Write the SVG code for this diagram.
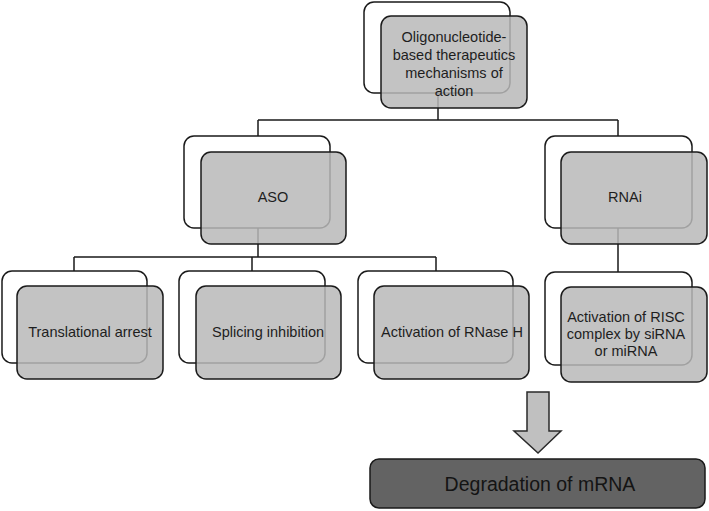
<svg xmlns="http://www.w3.org/2000/svg" width="709" height="511" viewBox="0 0 709 511">
<style>
.back{fill:#ffffff;stroke:#1a1a1a;stroke-width:1.5}
.front{fill:#b8b8b8;fill-opacity:0.85;stroke:#1a1a1a;stroke-width:1.5}
.conn{fill:none;stroke:#1a1a1a;stroke-width:1.5}
text{font-family:"Liberation Sans",Arial,sans-serif;font-size:14.5px;fill:#1e1e1e;text-anchor:middle}
</style>
<rect width="709" height="511" fill="#ffffff"/>
<g id="connectors">
<path class="conn" d="M438,93 V120 M258,120 H618 M258,120 V136 M618,120 V136 M258,228 V257 M74,257 H436 M74,257 V271 M252,257 V271 M436,257 V271 M618,228 V272"/>
</g>
<g id="node-top">
<rect class="back" x="364" y="2" width="146" height="91" rx="10"/>
<rect class="front" x="381" y="16" width="146" height="92" rx="10"/>
<text x="454" y="42">Oligonucleotide-</text>
<text x="454" y="60">based therapeutics</text>
<text x="454" y="78">mechanisms of</text>
<text x="454" y="96">action</text>
</g>
<g id="node-aso">
<rect class="back" x="184" y="136" width="146" height="92" rx="10"/>
<rect class="front" x="201" y="152" width="145" height="92" rx="10"/>
<text x="273" y="202">ASO</text>
</g>
<g id="node-rnai">
<rect class="back" x="545" y="136" width="147" height="92" rx="10"/>
<rect class="front" x="561" y="152" width="146" height="92" rx="10"/>
<text x="625" y="202">RNAi</text>
</g>
<g id="node-translational">
<rect class="back" x="2" y="271" width="145" height="92" rx="10"/>
<rect class="front" x="17" y="286" width="146" height="93" rx="10"/>
<text x="90" y="337">Translational arrest</text>
</g>
<g id="node-splicing">
<rect class="back" x="179" y="271" width="146" height="92" rx="10"/>
<rect class="front" x="196" y="286" width="145" height="93" rx="10"/>
<text x="268" y="337">Splicing inhibition</text>
</g>
<g id="node-rnase">
<rect class="back" x="358" y="271" width="155" height="92" rx="10"/>
<rect class="front" x="374" y="286" width="155" height="93" rx="10"/>
<text x="452" y="337">Activation of RNase H</text>
</g>
<g id="node-risc">
<rect class="back" x="545" y="272" width="147" height="93" rx="10"/>
<rect class="front" x="561" y="287" width="146" height="95" rx="10"/>
<text x="626" y="322">Activation of RISC</text>
<text x="626" y="339">complex by siRNA</text>
<text x="626" y="356">or miRNA</text>
</g>
<g id="arrow">
<path d="M527,392 H549 V431 H561 L538,453 L514,431 H527 Z" fill="#c0c0c0" stroke="#2a2a2a" stroke-width="1.5"/>
</g>
<g id="node-degradation">
<rect x="370" y="459" width="335" height="49" rx="9" fill="#636363" stroke="#1a1a1a" stroke-width="1.5"/>
<text x="540" y="491" style="font-size:19.5px;fill:#141414">Degradation of mRNA</text>
</g>
</svg>
